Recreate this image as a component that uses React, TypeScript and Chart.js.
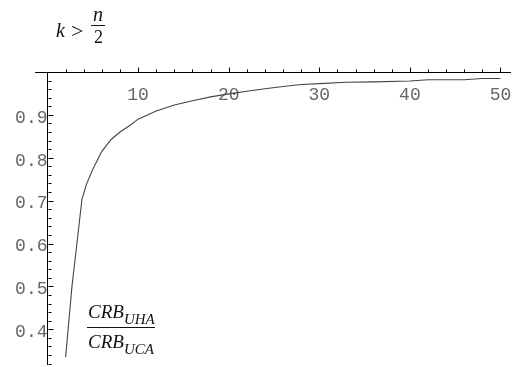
import React, { useEffect, useRef } from 'react';
import { Chart, registerables } from 'chart.js';

Chart.register(...registerables);

// Array size n (x) and CRB ratio (y)
const nValues = [2, 2.7, 3.3, 3.8, 4.3, 5, 6, 7, 8, 9, 10, 12, 14, 16, 18, 20, 22, 24, 26, 28, 30, 33, 36, 40, 42, 46, 48, 50];
const ratioValues = [0.335, 0.5, 0.61, 0.703, 0.738, 0.773, 0.815, 0.842, 0.86, 0.874, 0.89, 0.909, 0.923, 0.933, 0.942, 0.949, 0.955, 0.961, 0.966, 0.971, 0.973, 0.976, 0.977, 0.979, 0.982, 0.982, 0.985, 0.985];

const xTickLabels = [10, 20, 30, 40, 50];
const yTickLabels = [0.4, 0.5, 0.6, 0.7, 0.8, 0.9];
const xMinorTicks = [2, 4, 6, 8, 10, 12, 14, 16, 18, 20, 22, 24, 26, 28, 30, 32, 34, 36, 38, 40, 42, 44, 46, 48, 50];
const yMinorTicks = [0.32, 0.34, 0.36, 0.38, 0.4, 0.42, 0.44, 0.46, 0.48, 0.5, 0.52, 0.54, 0.56, 0.58, 0.6, 0.62, 0.64, 0.66, 0.68, 0.7, 0.72, 0.74, 0.76, 0.78, 0.8, 0.82, 0.84, 0.86, 0.88, 0.9, 0.92, 0.94, 0.96, 0.98];

const zeroPad = (scale: any) => {
  scale.paddingLeft = 0;
  scale.paddingRight = 0;
  scale.paddingTop = 0;
  scale.paddingBottom = 0;
};

const mathPlugin = {
  id: 'mathAxes',
  afterDraw(chart: any) {
    const ctx = chart.ctx as CanvasRenderingContext2D;
    const xs = chart.scales.x;
    const ys = chart.scales.y;
    const axisY = Math.round(ys.getPixelForValue(1)) + 0.5;
    const axisX = Math.round(xs.getPixelForValue(0)) + 0.5;
    ctx.save();
    ctx.strokeStyle = '#000';
    ctx.lineWidth = 1;
    // x ticks pointing up
    xMinorTicks.forEach((n) => {
      const px = Math.round(xs.getPixelForValue(n)) + 0.5;
      const len = xTickLabels.includes(n) ? 5 : 3;
      ctx.beginPath();
      ctx.moveTo(px, axisY);
      ctx.lineTo(px, axisY - len);
      ctx.stroke();
    });
    // y ticks pointing right
    yMinorTicks.forEach((v) => {
      const py = Math.round(ys.getPixelForValue(v)) + 0.5;
      const major = yTickLabels.some((t) => Math.abs(t - v) < 1e-6);
      const len = major ? 5 : 3;
      ctx.beginPath();
      ctx.moveTo(axisX, py);
      ctx.lineTo(axisX + len, py);
      ctx.stroke();
    });

    ctx.fillStyle = '#111';
    ctx.textBaseline = 'alphabetic';
    ctx.textAlign = 'left';
    // k > n/2
    ctx.font = 'italic 20px "Liberation Serif"';
    ctx.fillText('k', 56, 37);
    ctx.font = '22px "Liberation Serif"';
    ctx.fillText('>', 71, 38);
    ctx.font = 'italic 20px "Liberation Serif"';
    ctx.fillText('n', 93, 21);
    ctx.font = '18px "Liberation Serif"';
    ctx.fillText('2', 94, 43);
    ctx.fillRect(91, 25, 14, 1);

    // CRB_UHA / CRB_UCA
    const big = 'italic 19px "Liberation Serif"';
    const small = 'italic 15px "Liberation Serif"';
    ctx.font = big;
    const w = ctx.measureText('CRB').width;
    ctx.fillText('CRB', 88, 318);
    ctx.fillText('CRB', 88, 348);
    ctx.font = small;
    ctx.fillText('UHA', 88 + w, 324);
    ctx.fillText('UCA', 88 + w, 354);
    ctx.fillRect(87, 327, 68, 1);
    ctx.restore();
  },
};

export default function App() {
  const canvasRef = useRef<HTMLCanvasElement | null>(null);

  useEffect(() => {
    if (!canvasRef.current) return;
    const points = nValues.map((n, i) => ({ x: n, y: ratioValues[i] }));
    const chart = new Chart(canvasRef.current, {
      type: 'scatter',
      data: {
        datasets: [
          {
            data: points,
            showLine: true,
            borderColor: '#444',
            borderWidth: 1.1,
            pointRadius: 0,
            pointHoverRadius: 0,
            fill: false,
            tension: 0,
          },
        ],
      },
      options: {
        animation: false,
        responsive: false,
        events: [],
        layout: { padding: { left: 35, right: 4, top: 72, bottom: 3 } },
        plugins: {
          legend: { display: false },
          tooltip: { enabled: false },
          title: { display: false },
        },
        scales: {
          x: {
            type: 'linear',
            position: { y: 1 } as any,
            min: -1.38,
            max: 51.05,
            grid: { display: false, drawTicks: false },
            border: { display: true, color: '#000', width: 1 },
            ticks: {
              stepSize: 10,
              includeBounds: false,
              autoSkip: false,
              maxRotation: 0,
              padding: 12,
              color: '#666',
              font: { family: '"Liberation Mono", "Courier New", monospace', size: 18 },
              callback: (v: any) => (xTickLabels.includes(Number(v)) ? String(v) : ''),
            },
            afterFit: zeroPad,
          },
          y: {
            type: 'linear',
            position: { x: 0 } as any,
            min: 0.319,
            max: 1.0,
            grid: { display: false, drawTicks: false },
            border: { display: true, color: '#000', width: 1 },
            ticks: {
              stepSize: 0.1,
              includeBounds: false,
              autoSkip: false,
              padding: 0,
              color: '#666',
              font: { family: '"Liberation Mono", "Courier New", monospace', size: 18, lineHeight: '6px' },
              callback: (v: any) => {
                const t = yTickLabels.find((y) => Math.abs(y - Number(v)) < 1e-6);
                return t !== undefined ? ['', t.toFixed(1)] : '';
              },
            },
            afterFit: zeroPad,
          },
        },
      },
      plugins: [mathPlugin],
    });
    return () => chart.destroy();
  }, []);

  return (
    <div style={{ position: 'fixed', left: 0, top: 0, width: 514, height: 367, background: '#fff' }}>
      <canvas ref={canvasRef} width={514} height={367} style={{ display: 'block' }} />
    </div>
  );
}
